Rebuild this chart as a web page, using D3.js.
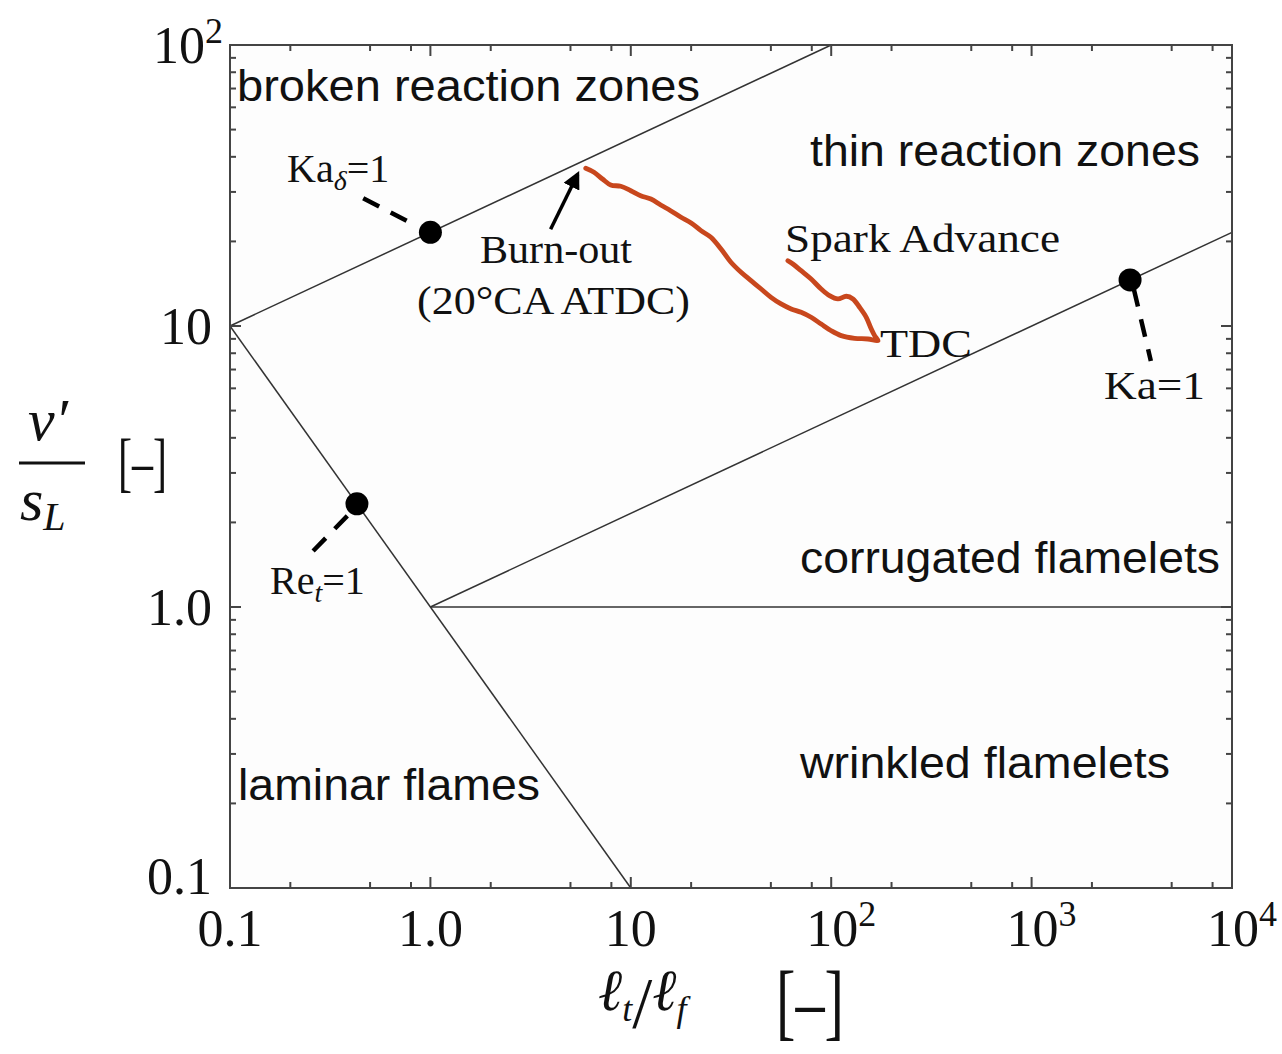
<!DOCTYPE html>
<html><head><meta charset="utf-8">
<script src="https://cdn.jsdelivr.net/npm/d3@7/dist/d3.min.js"></script>
<style>body{margin:0;background:#fff}</style>
</head><body>
<svg id="chart" width="1282" height="1054"></svg>
<script>
// ---------- data ----------
const xMajorTicks = [0.1, 1, 10, 100, 1000, 10000];
const xTickLabels = [["0.1",""],["1.0",""],["10",""],["10","2"],["10","3"],["10","4"]];
const xMinorMultipliers = [2, 5, 8];
const yMajorTicks = [0.1, 1, 10, 100];
const yTickLabels = [["0.1",""],["1.0",""],["10",""],["10","2"]];
const yMinorMultipliers = [2, 3, 4, 5, 6, 7, 8, 9];

const kaDeltaLine = [[0.1, 10], [100, 100]];
const kaLine = [[1, 1], [10000, 21.54]];
const reLine = [[0.1, 10], [10, 0.1]];
const unityLine = [[1, 1], [10000, 1]];

const markerPoints = [[1, 21.54], [0.43, 2.33], [3100, 14.58]];
const leaderLines = [
  [[0.462, 28.5], [0.767, 23.6]],
  [[0.385, 2.11], [0.257, 1.57]],
  [[3236, 13.54], [3936, 7.51]]
];
const burnArrow = [[3.98, 22.1], [5.43, 34.7]];

// engine trajectory: Spark Advance -> TDC -> Burn-out
const trajL = [60.8, 64.4, 70.8, 79.4, 89.1, 98.1, 108.0, 118.9, 128.4, 138.5, 149.6, 158.5, 164.7, 171.2,
  152.6, 130.8, 112.2, 100, 89.1, 79.4, 70.8, 63.1, 56.2, 50.1, 44.7, 39.8, 35.5, 31.6, 28.2, 25.1, 22.4,
  20.0, 17.8, 15.8, 14.1, 12.6, 11.2, 10.0, 8.91, 7.94, 7.22, 6.55, 5.96];
const trajV = [17.08, 16.62, 15.73, 14.70, 13.54, 12.82, 12.48, 12.76, 12.48, 11.66, 10.74, 9.76, 9.24, 8.87,
  8.99, 9.04, 9.24, 9.62, 10.16, 10.74, 11.19, 11.50, 11.98, 12.65, 13.54, 14.50, 15.53, 16.86, 18.79, 20.69, 21.84,
  23.26, 24.37, 25.72, 26.96, 28.31, 29.09, 30.30, 31.42, 31.76, 33.36, 35.24, 36.41];

const regionLabels = ["broken reaction zones", "thin reaction zones", "corrugated flamelets", "wrinkled flamelets", "laminar flames"];

// ---------- layout ----------
const svg = d3.select("#chart");
const L = 230, R = 1232, T = 45, B = 888;
const x = d3.scaleLog().domain([0.1, 10000]).range([L, R]);
const y = d3.scaleLog().domain([0.1, 100]).range([B, T]);
const serif = "'Liberation Serif', 'Times New Roman', serif";
const sans = "'Liberation Sans', Arial, sans-serif";

svg.append("defs").append("marker")
  .attr("id", "ah").attr("viewBox", "0 0 10 10").attr("refX", 8).attr("refY", 5)
  .attr("markerWidth", 5).attr("markerHeight", 5).attr("orient", "auto")
  .append("path").attr("d", "M0,0 L10,5 L0,10 z").attr("fill", "#000");

const line = d3.line().x(d => x(d[0])).y(d => y(d[1]));
const g = svg.append("g");
g.append("rect").attr("x", L).attr("y", T).attr("width", R - L).attr("height", B - T).attr("fill", "#fdfdfd");

[kaDeltaLine, kaLine, reLine, unityLine].forEach(d => {
  g.append("path").attr("d", line(d)).attr("fill", "none").attr("stroke", "#333").attr("stroke-width", 1.5);
});

// trajectory
const traj = trajL.map((l, i) => [l, trajV[i]]);
g.append("path").attr("d", d3.line().x(d => x(d[0])).y(d => y(d[1])).curve(d3.curveCatmullRom)(traj))
  .attr("fill", "none").attr("stroke", "#c8471d").attr("stroke-width", 4.8)
  .attr("stroke-linecap", "round").attr("stroke-linejoin", "round");

// leaders
leaderLines.forEach(d => {
  g.append("path").attr("d", line(d)).attr("stroke", "#000").attr("stroke-width", 4.5)
    .attr("stroke-dasharray", "18,13").attr("fill", "none");
});
// markers
g.selectAll("circle.m").data(markerPoints).enter().append("circle")
  .attr("cx", d => x(d[0])).attr("cy", d => y(d[1])).attr("r", 11.5).attr("fill", "#000");
// arrow
g.append("path").attr("d", line(burnArrow)).attr("stroke", "#000").attr("stroke-width", 3.5)
  .attr("fill", "none").attr("marker-end", "url(#ah)");

// frame
g.append("rect").attr("x", L).attr("y", T).attr("width", R - L).attr("height", B - T)
  .attr("fill", "none").attr("stroke", "#444").attr("stroke-width", 2);

// ticks
const tk = g.append("g").attr("stroke", "#444").attr("stroke-width", 2);
const xMinor = [];
xMajorTicks.slice(0, -1).forEach(m => xMinorMultipliers.forEach(k => xMinor.push(m * k)));
const yMinor = [];
yMajorTicks.slice(0, -1).forEach(m => yMinorMultipliers.forEach(k => yMinor.push(m * k)));
xMajorTicks.forEach(v => {
  tk.append("line").attr("x1", x(v)).attr("x2", x(v)).attr("y1", B).attr("y2", B - 11);
  tk.append("line").attr("x1", x(v)).attr("x2", x(v)).attr("y1", T).attr("y2", T + 11);
});
xMinor.forEach(v => {
  tk.append("line").attr("x1", x(v)).attr("x2", x(v)).attr("y1", B).attr("y2", B - 6);
  tk.append("line").attr("x1", x(v)).attr("x2", x(v)).attr("y1", T).attr("y2", T + 6);
});
yMajorTicks.forEach(v => {
  tk.append("line").attr("y1", y(v)).attr("y2", y(v)).attr("x1", L).attr("x2", L + 11);
  tk.append("line").attr("y1", y(v)).attr("y2", y(v)).attr("x1", R).attr("x2", R - 11);
});
yMinor.forEach(v => {
  tk.append("line").attr("y1", y(v)).attr("y2", y(v)).attr("x1", L).attr("x2", L + 6);
  tk.append("line").attr("y1", y(v)).attr("y2", y(v)).attr("x1", R).attr("x2", R - 6);
});

// tick labels
function tickLabel(t, px, py, anchor) {
  const tx = svg.append("text").attr("x", px).attr("y", py).attr("text-anchor", anchor)
    .attr("font-family", serif).attr("font-size", 52).attr("fill", "#111");
  tx.append("tspan").text(t[0]);
  if (t[1]) tx.append("tspan").attr("dy", -20).attr("font-size", 36).text(t[1]);
}
xMajorTicks.forEach((v, i) => tickLabel(xTickLabels[i], x(v) + (xTickLabels[i][1] ? 10 : 0), 946, "middle"));
yMajorTicks.forEach((v, i) => {
  const py = i === 0 ? 894 : y(v) + 18;
  tickLabel(yTickLabels[i], i === 3 ? 223 : 212, py, "end");
});

// region labels
const regionPos = [[237, 101, 463], [810, 166, 390], [800, 573, 420], [800, 778, 370], [238, 800, 302]];
regionLabels.forEach((t, i) => {
  svg.append("text").attr("x", regionPos[i][0]).attr("y", regionPos[i][1])
    .attr("font-family", sans).attr("font-size", 44).attr("fill", "#111")
    .attr("textLength", regionPos[i][2]).attr("lengthAdjust", "spacingAndGlyphs").text(t);
});

// serif annotations
function ann(txt, px, py, w) {
  const t = svg.append("text").attr("x", px).attr("y", py).attr("font-family", serif)
    .attr("font-size", 40).attr("fill", "#111").text(txt);
  if (w) t.attr("textLength", w).attr("lengthAdjust", "spacingAndGlyphs");
  return t;
}
ann("Spark Advance", 785, 252, 275);
ann("TDC", 880, 357, 92);
ann("Ka=1", 1104, 399, 101);
ann("Burn-out", 480, 263, 152);
ann("(20°CA ATDC)", 417, 314, 273);
function subAnn(a, s, b, px, py) {
  const t = svg.append("text").attr("x", px).attr("y", py).attr("font-family", serif)
    .attr("font-size", 40).attr("fill", "#111");
  t.append("tspan").text(a);
  t.append("tspan").attr("dy", 8).attr("font-size", 28).attr("font-style", "italic").text(s);
  t.append("tspan").attr("dy", -8).text(b);
}
subAnn("Ka", "δ", "=1", 287, 182);
subAnn("Re", "t", "=1", 270, 594);

// y-axis label
svg.append("text").attr("x", 28).attr("y", 440).attr("font-family", serif).attr("font-style", "italic")
  .attr("font-size", 60).attr("fill", "#111").text("v′");
svg.append("line").attr("x1", 19).attr("x2", 85).attr("y1", 463).attr("y2", 463).attr("stroke", "#111").attr("stroke-width", 3);
const sl = svg.append("text").attr("x", 20).attr("y", 520).attr("font-family", serif).attr("font-style", "italic")
  .attr("font-size", 60).attr("fill", "#111");
sl.append("tspan").text("s");
sl.append("tspan").attr("dy", 10).attr("font-size", 40).text("L");
svg.append("text").attr("x", 118).attr("y", 484).attr("font-family", serif).attr("font-size", 66)
  .attr("fill", "#111").attr("textLength", 49).attr("lengthAdjust", "spacingAndGlyphs").text("[–]");

// x-axis label
const xl = svg.append("text").attr("x", 598).attr("y", 1010).attr("font-family", serif)
  .attr("font-style", "italic").attr("font-size", 58).attr("fill", "#111");
xl.append("tspan").text("ℓ");
xl.append("tspan").attr("dy", 11).attr("font-size", 36).text("t");
xl.append("tspan").attr("dy", 6).attr("font-size", 72).attr("font-style", "normal").text("/");
xl.append("tspan").attr("dy", -17).text("ℓ");
xl.append("tspan").attr("dy", 11).attr("font-size", 36).text("f");
svg.append("text").attr("x", 776).attr("y", 1030).attr("font-family", serif).attr("font-size", 84)
  .attr("fill", "#111").attr("textLength", 68).attr("lengthAdjust", "spacingAndGlyphs").text("[–]");
</script>
</body></html>
